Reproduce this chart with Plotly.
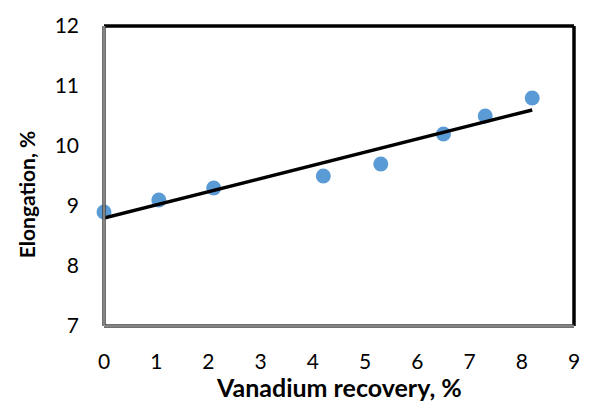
import numpy as np
import plotly.graph_objects as go

recovery = [0, 1.05, 2.1, 4.2, 5.3, 6.5, 7.3, 8.2]
elongation = [8.9, 9.1, 9.3, 9.5, 9.7, 10.2, 10.5, 10.8]
x_ticks = [0, 1, 2, 3, 4, 5, 6, 7, 8, 9]
y_ticks = [7, 8, 9, 10, 11, 12]

slope, intercept = np.polyfit(recovery, elongation, 1)
trend_x = [min(recovery), max(recovery)]
trend_y = [intercept + slope * v for v in trend_x]

fig = go.Figure()
fig.add_trace(go.Scatter(x=recovery, y=elongation, mode="markers",
                         marker=dict(color="#5B9BD5", size=15, line=dict(width=0)),
                         showlegend=False, cliponaxis=False))
fig.add_trace(go.Scatter(x=trend_x, y=trend_y, mode="lines",
                         line=dict(color="black", width=3.5), showlegend=False))

font = "Lato, 'Open Sans', sans-serif"
fig.update_layout(
    width=592, height=401,
    margin=dict(l=104, r=15, t=22, b=75),
    plot_bgcolor="white", paper_bgcolor="white",
    font=dict(family=font, size=21, color="black"),
    xaxis=dict(range=[0, 9], tickvals=x_ticks, showgrid=False, zeroline=False,
               showline=False, ticks="", ticklabelstandoff=21),
    yaxis=dict(range=[7, 12], tickvals=y_ticks, showgrid=False, zeroline=False,
               showline=False, ticks="", ticklabelstandoff=24),
    annotations=[
        dict(text="<b>Vanadium recovery, %</b>", xref="paper", yref="paper",
             x=(340 - 104) / 473, y=-(388 - 326) / 304, xanchor="center",
             yanchor="middle", showarrow=False, font=dict(size=25)),
        dict(text="<b>Elongation, %</b>", xref="paper", yref="paper",
             x=-(104 - 26) / 473, y=(326 - 193) / 304, xanchor="center",
             yanchor="middle", textangle=-90, showarrow=False,
             font=dict(size=21)),
    ],
    shapes=[
        dict(type="line", xref="paper", yref="paper", x0=0, x1=1, y0=1, y1=1,
             line=dict(color="black", width=3.5)),
        dict(type="line", xref="paper", yref="paper", x0=1, x1=1, y0=0, y1=1,
             line=dict(color="black", width=3.5)),
        dict(type="line", xref="paper", yref="paper", x0=0, x1=0, y0=0, y1=1,
             line=dict(color="#404040", width=3.5)),
        dict(type="line", xref="paper", yref="paper", x0=0, x1=1, y0=0, y1=0,
             line=dict(color="#404040", width=3.5)),
        dict(type="line", xref="paper", yref="paper", x0=0, x1=0, y0=0, y1=1,
             line=dict(color="#c8c8c8", width=1)),
        dict(type="line", xref="paper", yref="paper", x0=0, x1=1, y0=0, y1=0,
             line=dict(color="#c8c8c8", width=1)),
    ],
)
fig.write_html("out.html")
